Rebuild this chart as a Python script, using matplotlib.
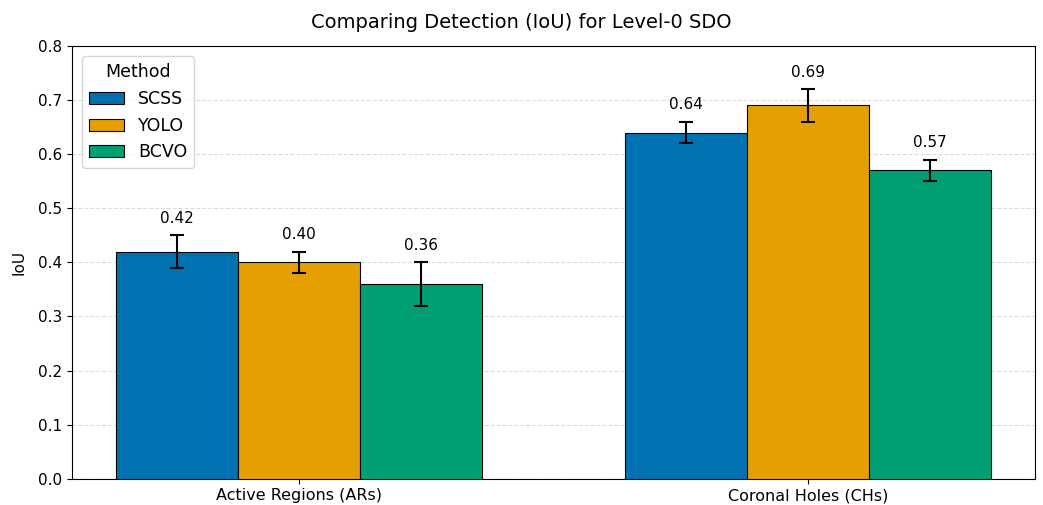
import numpy as np
import matplotlib
matplotlib.use("Agg")
import matplotlib.pyplot as plt

categories = ["Active Regions (ARs)", "Coronal Holes (CHs)"]
methods = ["SCSS", "YOLO", "BCVO"]
iouMean = {
    "SCSS": [0.42, 0.64],
    "YOLO": [0.40, 0.69],
    "BCVO": [0.36, 0.57],
}
iouErr = {
    "SCSS": [0.03, 0.02],
    "YOLO": [0.02, 0.03],
    "BCVO": [0.04, 0.02],
}
colors = ["#0072B2", "#E69F00", "#009E73"]

fig, ax = plt.subplots(figsize=(10.43, 5.05), dpi=100)
fig.subplots_adjust(left=0.069, right=0.992, top=0.909, bottom=0.052)

x = np.arange(len(categories))
width = 0.24
for i, m in enumerate(methods):
    pos = x + (i - 1) * width
    ax.bar(pos, iouMean[m], width, yerr=iouErr[m], capsize=5, color=colors[i],
           edgecolor="black", linewidth=0.8, label=m, zorder=3,
           error_kw=dict(elinewidth=1.5, capthick=1.5, ecolor="black"))
    for p, v, e in zip(pos, iouMean[m], iouErr[m]):
        ax.text(p, v + e + 0.017, f"{v:.2f}", ha="center", va="bottom", fontsize=11)

ax.set_xticks(x)
ax.set_xticklabels(categories, fontsize=11.5)
ax.set_ylim(0, 0.8)
ax.set_ylabel("IoU", fontsize=11, labelpad=8)
fig.suptitle("Comparing Detection (IoU) for Level-0 SDO", fontsize=14, y=0.975)
ax.yaxis.grid(True, linestyle="--", color="#cccccc", alpha=0.7, zorder=0)
ax.set_axisbelow(True)
ax.tick_params(axis="y", labelsize=11)
ax.legend(title="Method", loc="upper left", fontsize=12.5, title_fontsize=12.5,
          borderaxespad=0.6)

fig.savefig("out.png", dpi=100)
